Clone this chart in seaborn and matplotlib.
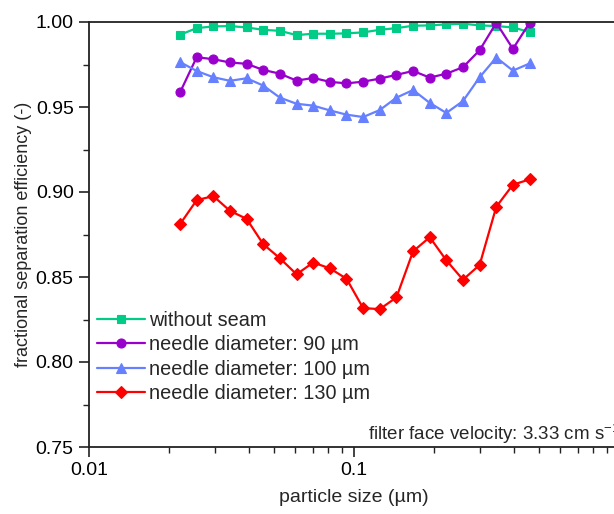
import numpy as np
import pandas as pd
import matplotlib
matplotlib.use("Agg")
import matplotlib.pyplot as plt
from matplotlib.ticker import FixedLocator, FixedFormatter, LogLocator, MultipleLocator, NullFormatter
import seaborn as sns

# ---- data ----
particle_size = [0.02206, 0.02549, 0.02946, 0.03404, 0.03934, 0.04546, 0.05253,
                 0.06071, 0.07015, 0.08107, 0.09368, 0.10826, 0.1251, 0.1446,
                 0.1671, 0.1931, 0.2231, 0.2578, 0.2979, 0.3443, 0.3979, 0.4598]

without_seam = [0.9925, 0.9964, 0.9974, 0.9976, 0.9968, 0.9954, 0.9948, 0.9923,
                0.9931, 0.9931, 0.9933, 0.9939, 0.9954, 0.9964, 0.9978, 0.9980,
                0.9986, 0.9990, 0.9980, 0.9976, 0.9968, 0.9941]
needle_90 = [0.9586, 0.9793, 0.9781, 0.9762, 0.9754, 0.9718, 0.9696, 0.9655,
             0.9671, 0.9648, 0.9639, 0.9649, 0.9667, 0.9689, 0.9712, 0.9673,
             0.9696, 0.9734, 0.9834, 0.9995, 0.9842, 0.9995]
needle_100 = [0.9764, 0.9712, 0.9675, 0.9654, 0.9669, 0.9626, 0.9555, 0.9519,
              0.9508, 0.9480, 0.9455, 0.9441, 0.9482, 0.9555, 0.9600, 0.9524,
              0.9465, 0.9535, 0.9675, 0.9791, 0.9714, 0.9756]
needle_130 = [0.8811, 0.8952, 0.8976, 0.8889, 0.8842, 0.8693, 0.8610, 0.8516,
              0.8585, 0.8551, 0.8490, 0.8317, 0.8311, 0.8380, 0.8651, 0.8734,
              0.8598, 0.8484, 0.8571, 0.8913, 0.9043, 0.9074]

series_names = ["without seam", "needle diameter: 90 µm",
                "needle diameter: 100 µm", "needle diameter: 130 µm"]
series_values = [without_seam, needle_90, needle_100, needle_130]
series_colors = ["#00CC88", "#9900CC", "#6680FF", "#FF0000"]
series_markers = ["s", "o", "^", "D"]
marker_sizes = [6, 6.5, 7, 6]

x_tick_values = [0.01, 0.1, 1]
x_tick_labels = ["0.01", "0.1", ""]
y_tick_values = [0.75, 0.80, 0.85, 0.90, 0.95, 1.00]
y_tick_labels = ["0.75", "0.80", "0.85", "0.90", "0.95", "1.00"]

# ---- styling ----
sns.set_style("ticks")
plt.rcParams["font.family"] = ["Liberation Sans", "DejaVu Sans"]
plt.rcParams["mathtext.fontset"] = "custom"
plt.rcParams["mathtext.rm"] = "Liberation Sans"
plt.rcParams["mathtext.it"] = "Liberation Sans"

fig = plt.figure(figsize=(6.14, 5.14), dpi=100)
ax = fig.add_axes([89 / 614, (514 - 447) / 514, 530 / 614, 425 / 514])

df = pd.DataFrame({
    "size": np.tile(particle_size, len(series_names)),
    "eff": np.concatenate(series_values),
    "series": np.repeat(series_names, len(particle_size)),
})

for name, col, mk, ms in zip(series_names, series_colors, series_markers, marker_sizes):
    sub = df[df["series"] == name]
    sns.lineplot(data=sub, x="size", y="eff", ax=ax, color=col, marker=mk,
                 markersize=ms, linewidth=1.6, label=name,
                 markeredgecolor=col, markeredgewidth=0.8)

ax.set_xscale("log")
ax.set_xlim(0.01, 1)
ax.set_ylim(0.75, 1.00)

ax.xaxis.set_major_locator(FixedLocator(x_tick_values))
ax.xaxis.set_major_formatter(FixedFormatter(x_tick_labels))
ax.xaxis.set_minor_locator(LogLocator(base=10, subs=np.arange(2, 10)))
ax.xaxis.set_minor_formatter(NullFormatter())
ax.yaxis.set_major_locator(FixedLocator(y_tick_values))
ax.yaxis.set_major_formatter(FixedFormatter(y_tick_labels))
ax.yaxis.set_minor_locator(MultipleLocator(0.025))

ax.tick_params(which="major", direction="out", length=7, width=1.2,
               labelsize=14, colors="#222222", labelcolor="black", pad=4)
ax.tick_params(which="minor", direction="out", length=4, width=1.0, colors="#222222")
ax.tick_params(top=False, right=False, which="both")

for sp in ax.spines.values():
    sp.set_linewidth(1.3)
    sp.set_color("#222222")
    sp.set_visible(True)

ax.set_xlabel("particle size (µm)", fontsize=14, labelpad=7)
ax.set_ylabel("fractional separation efficiency (-)", fontsize=13, labelpad=3)

ax.legend(loc="lower left", bbox_to_anchor=(0.0, 0.085), borderaxespad=0,
          frameon=False, fontsize=14.3, handlelength=2.4, handletextpad=0.2,
          labelspacing=0.27)

ax.text(0.527, 0.016, "filter face velocity: 3.33 cm s$^{-1}$",
        transform=ax.transAxes, fontsize=13.5, ha="left", va="baseline")

fig.savefig("out.png", dpi=100)
